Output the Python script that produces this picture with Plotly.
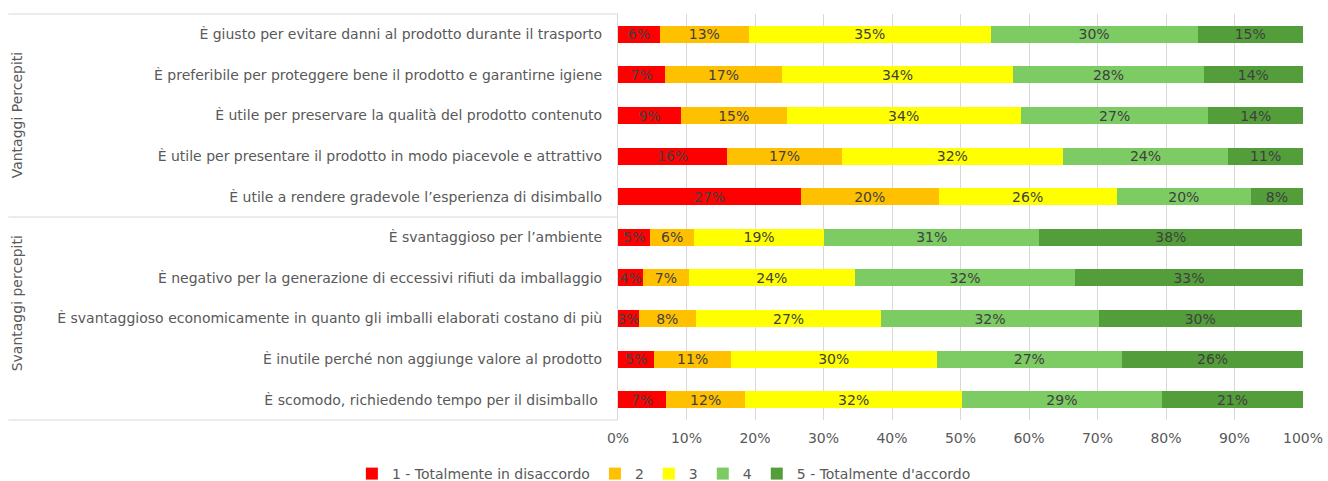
import plotly.graph_objects as go

categories = [
    "È giusto per evitare danni al prodotto durante il trasporto",
    "È preferibile per proteggere bene il prodotto e garantirne igiene",
    "È utile per preservare la qualità del prodotto contenuto",
    "È utile per presentare il prodotto in modo piacevole e attrattivo",
    "È utile a rendere gradevole l’esperienza di disimballo",
    "È svantaggioso per l’ambiente",
    "È negativo per la generazione di eccessivi rifiuti da imballaggio",
    "È svantaggioso economicamente in quanto gli imballi elaborati costano di più",
    "È inutile perché non aggiunge valore al prodotto",
    "È scomodo, richiedendo tempo per il disimballo ",
]

series_names = ["1 - Totalmente in disaccordo", "2", "3", "4", "5 - Totalmente d'accordo"]

s1 = [0.061, 0.069, 0.092, 0.159, 0.267, 0.047, 0.037, 0.030, 0.053, 0.070]
s2 = [0.130, 0.170, 0.154, 0.168, 0.201, 0.064, 0.066, 0.084, 0.112, 0.116]
s3 = [0.353, 0.338, 0.342, 0.322, 0.260, 0.190, 0.243, 0.270, 0.300, 0.316]
s4 = [0.302, 0.278, 0.274, 0.242, 0.196, 0.314, 0.321, 0.318, 0.271, 0.292]
s5 = [0.154, 0.145, 0.138, 0.109, 0.076, 0.384, 0.333, 0.296, 0.264, 0.206]

groups = ["Vantaggi Percepiti", "Svantaggi percepiti"]
x_ticks = [0, 0.1, 0.2, 0.3, 0.4, 0.5, 0.6, 0.7, 0.8, 0.9, 1.0]

colors = ["#FF0000", "#FFC000", "#FFFF00", "#7CCB63", "#539E3A"]
FONT = "DejaVu Sans"
GRAY = "#595959"

fig = go.Figure()
for name, vals, col in zip(series_names, [s1, s2, s3, s4, s5], colors):
    fig.add_trace(go.Bar(
        y=categories, x=vals, name=name, orientation="h",
        marker=dict(color=col, line=dict(width=0)),
        text=[f"{round(v*100):.0f}%" for v in vals],
        textposition="inside", insidetextanchor="middle",
        textangle=0, constraintext="none",
        textfont=dict(family=FONT, size=14, color="#404040"),
        hoverinfo="skip",
    ))

fig.update_layout(
    barmode="stack",
    bargap=0.58,
    width=1328, height=481,
    margin=dict(l=618, r=25, t=14, b=61, autoexpand=False),
    paper_bgcolor="white", plot_bgcolor="white",
    font=dict(family=FONT, size=14, color=GRAY),
    legend=dict(orientation="h", x=0.067, xanchor="center", y=-0.133, yanchor="middle",
                font=dict(family=FONT, size=14, color=GRAY), traceorder="normal",
                itemwidth=30, bgcolor="rgba(0,0,0,0)"),
    xaxis=dict(range=[0, 1], tickvals=x_ticks, tickformat=".0%", showgrid=True,
               gridcolor="#D9D9D9", gridwidth=1, zeroline=False, showline=False,
               automargin=False, ticklabelstandoff=8,
               tickfont=dict(family=FONT, size=14, color=GRAY), ticks=""),
    yaxis=dict(autorange="reversed", showgrid=False, showline=True, linecolor="#D9D9D9",
               ticks="", ticklabelstandoff=12, automargin=False,
               tickfont=dict(family=FONT, size=14, color=GRAY)),
)

# group separators and labels
line_style = dict(color="#D9D9D9", width=1)
for yy in [1.0, 0.5, 0.0]:
    fig.add_shape(type="line", xref="paper", yref="paper", x0=-0.89, x1=0, y0=yy, y1=yy, line=line_style)

fig.add_annotation(text=groups[0], xref="paper", yref="paper", x=-0.877, y=0.751,
                   xanchor="center", yanchor="middle",
                   textangle=-90, showarrow=False, font=dict(family=FONT, size=14, color=GRAY))
fig.add_annotation(text=groups[1], xref="paper", yref="paper", x=-0.877, y=0.288,
                   xanchor="center", yanchor="middle",
                   textangle=-90, showarrow=False, font=dict(family=FONT, size=14, color=GRAY))

fig.write_html("out.html", config={"displayModeBar": False},
               post_script="document.body.style.margin='0';document.body.style.overflow='hidden';")
